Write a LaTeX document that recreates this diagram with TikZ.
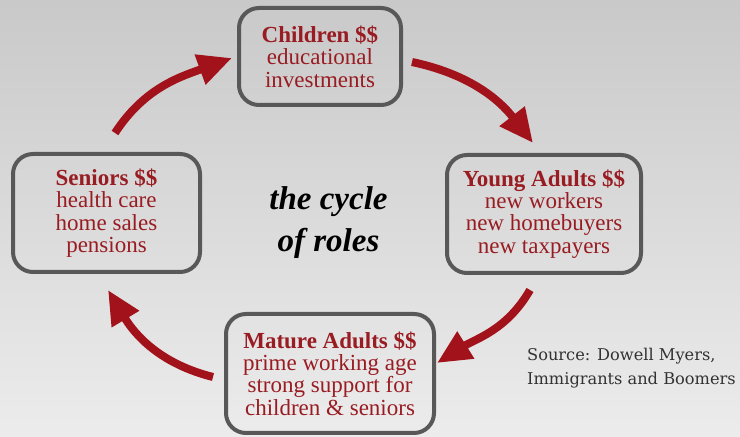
\documentclass[tikz,border=0pt]{standalone}
\usepackage{fontspec}
\setmainfont{Liberation Serif}
\newfontfamily\sourcefont{DejaVu Serif}
\usetikzlibrary{positioning,arrows.meta}
\definecolor{bgtop}{RGB}{201,201,201}
\definecolor{bgbottom}{RGB}{236,236,236}
\definecolor{rolered}{RGB}{152,28,34}
\definecolor{flowred}{RGB}{162,18,26}
\definecolor{boxgray}{RGB}{88,88,88}
\definecolor{sourcegray}{RGB}{50,50,50}
\tikzset{
 role/.style={draw=boxgray, line width=4pt, rounded corners=20pt, align=center,
  text=rolered, inner sep=0pt, font=\fontsize{23}{22.3}\selectfont},
 flow/.style={draw=flowred, line width=8pt, -{Triangle[length=34pt,width=30pt]}},
}

\begin{document}
\begin{tikzpicture}[x=1pt,y=1pt]
 \shade [top color=bgtop, bottom color=bgbottom] (0,0) rectangle (740,437);
 \useasboundingbox (0,0) rectangle (740,437);
 \node [role, minimum width=162pt, minimum height=97pt] (children) at (320,380.5)
  {\textbf{Children \$\$}\\educational\\investments};
 \node [role, minimum width=194pt, minimum height=118pt] (young) at (544,223)
  {\textbf{Young Adults \$\$}\\new workers\\new homebuyers\\new taxpayers};
 \node [role, minimum width=208pt, minimum height=119pt] (mature) at (330,63.5)
  {\textbf{Mature Adults \$\$}\\prime working age\\strong support for\\children \& seniors};
 \node [role, minimum width=187pt, minimum height=118pt] (seniors) at (106.5,224)
  {\textbf{Seniors \$\$}\\health care\\home sales\\pensions};
 \node [align=center, inner sep=0pt, font=\fontsize{33}{42}\selectfont\bfseries\itshape]
  (cycle) at (328.5,214) {the cycle\\of roles};
 \node [right=91pt of mature, yshift=5.5pt, align=left, inner sep=0pt, text=sourcegray,
  font=\sourcefont\fontsize{16.2}{24}\selectfont] (source)
  {Source: Dowell Myers,\\Immigrants and Boomers};
 \draw [flow] ([shift={(9,-5.5)}]children.east) to [out=-12, in=128] ([shift={(-11,10)}]young.north);
 \draw [flow] ([shift={(-14,-15)}]young.south) to [out=-120, in=32] ([shift={(1,10.5)}]mature.east);
 \draw [flow] ([shift={(-11,-3.5)}]mature.west) to [out=166, in=-59] ([shift={(1.5,-16)}]seniors.south);
 \draw [flow] ([shift={(8.5,19)}]seniors.north) to [out=57, in=200] ([shift={(-5,-1.5)}]children.west);
\end{tikzpicture}
\end{document}
